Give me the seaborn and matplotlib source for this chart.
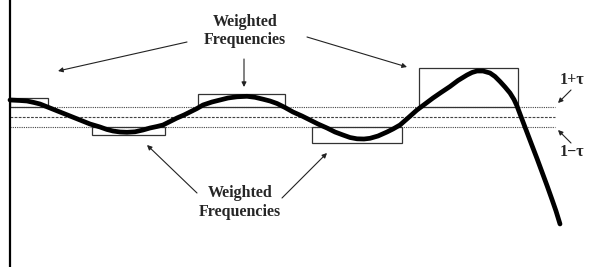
import matplotlib
matplotlib.use("Agg")
import matplotlib.pyplot as plt
from matplotlib.patches import Rectangle
import seaborn as sns
import pandas as pd

# curve: frequency vs. response (1 = unit gain, tau = tolerance)
freq = [0, 10, 17, 24, 30, 40, 50, 60, 70, 80, 90, 97, 103, 110, 117, 125, 133,
        140, 147, 153, 160, 167, 174, 180, 187, 193, 202, 210, 218, 227, 237,
        245, 253, 260, 267, 275, 283, 292, 300, 308, 317, 325, 333, 340, 347,
        354, 360, 368, 377, 383, 390, 398, 407, 415, 423, 431, 440, 448, 457,
        462, 467, 473, 480, 485, 490, 495, 500, 504, 507, 510, 514, 518, 522,
        527, 532, 537, 542, 546, 550]
response = [1.17, 1.165, 1.16, 1.145, 1.13, 1.09, 1.05, 1.01, 0.97, 0.93, 0.90,
            0.875, 0.86, 0.85, 0.847, 0.852, 0.87, 0.89, 0.905, 0.92, 0.955,
            0.99, 1.02, 1.05, 1.085, 1.12, 1.15, 1.17, 1.19, 1.202, 1.207,
            1.197, 1.178, 1.16, 1.135, 1.095, 1.05, 1.01, 0.97, 0.93, 0.89,
            0.85, 0.82, 0.795, 0.782, 0.78, 0.787, 0.81, 0.85, 0.88, 0.92,
            0.99, 1.07, 1.13, 1.19, 1.245, 1.305, 1.365, 1.42, 1.445, 1.46,
            1.46, 1.44, 1.405, 1.355, 1.30, 1.24, 1.175, 1.11, 1.03, 0.925,
            0.82, 0.715, 0.585, 0.45, 0.315, 0.175, 0.06, -0.07]
tau = 0.1
line_end = 545

# boxes around the extrema
box_x0 = [0, 82, 188, 302, 409]
box_x1 = [38, 155, 275, 392, 508]
box_y0 = [1.10, 0.82, 1.10, 0.74, 1.10]
box_y1 = [1.19, 0.90, 1.23, 0.90, 1.49]

label_text = "Weighted\nFrequencies"
tau_labels = ["1+\u03c4", "1\u2212\u03c4"]

sns.set_style("white")
plt.rcParams['font.family'] = ['Liberation Serif', 'DejaVu Serif']

fig = plt.figure(figsize=(5.99, 2.67), dpi=100)
ax = fig.add_axes([0, 0, 1, 1])

# tolerance lines
ax.hlines([1 + tau, 1 - tau], 0, line_end, colors="#444444", lw=0.8,
          linestyles=[(0, (1, 1))])
ax.hlines([1], 0, line_end, colors="#444444", lw=0.8, linestyles=[(0, (2.5, 1.2))])

# boxes
for x0, x1, y0, y1 in zip(box_x0, box_x1, box_y0, box_y1):
    ax.add_patch(Rectangle((x0, y0), x1 - x0, y1 - y0, fill=False,
                           edgecolor="#333333", lw=0.9, zorder=2))

df = pd.DataFrame({"freq": freq, "response": response})
sns.lineplot(data=df, x="freq", y="response", ax=ax, color="black", lw=3.4,
             sort=False, zorder=3, solid_joinstyle="round")

ax.set_xlim(-10, 589)
ax.set_ylim(-0.50, 2.17)
ax.axis("off")

# vertical axis
ax.axvline(0, color="black", lw=1.6)

fd = dict(fontsize=11.5, fontweight="bold", ha="center", va="center",
          linespacing=1.2)
arrow = dict(arrowstyle="-|>", color="#222222", lw=0.8, mutation_scale=7,
             shrinkA=0, shrinkB=0)

# top label
ax.text(235, 1.86, label_text, **fd)
ax.annotate("", xy=(48, 1.46), xytext=(177, 1.75), arrowprops=arrow)
ax.annotate("", xy=(234, 1.30), xytext=(234, 1.58), arrowprops=arrow)
ax.annotate("", xy=(397, 1.50), xytext=(297, 1.80), arrowprops=arrow)

# bottom label
ax.text(230, 0.145, label_text, **fd)
ax.annotate("", xy=(137, 0.72), xytext=(187, 0.24), arrowprops=arrow)
ax.annotate("", xy=(317, 0.64), xytext=(272, 0.19), arrowprops=arrow)

# tau labels
ax.text(562, 1.37, tau_labels[0], fontsize=11.5, fontweight="bold",
        ha="center", va="center")
ax.text(562, 0.65, tau_labels[1], fontsize=11.5, fontweight="bold",
        ha="center", va="center")
ax.annotate("", xy=(548, 1.14), xytext=(561, 1.27), arrowprops=arrow)
ax.annotate("", xy=(548, 0.87), xytext=(561, 0.74), arrowprops=arrow)

fig.savefig("out.png", dpi=100)
